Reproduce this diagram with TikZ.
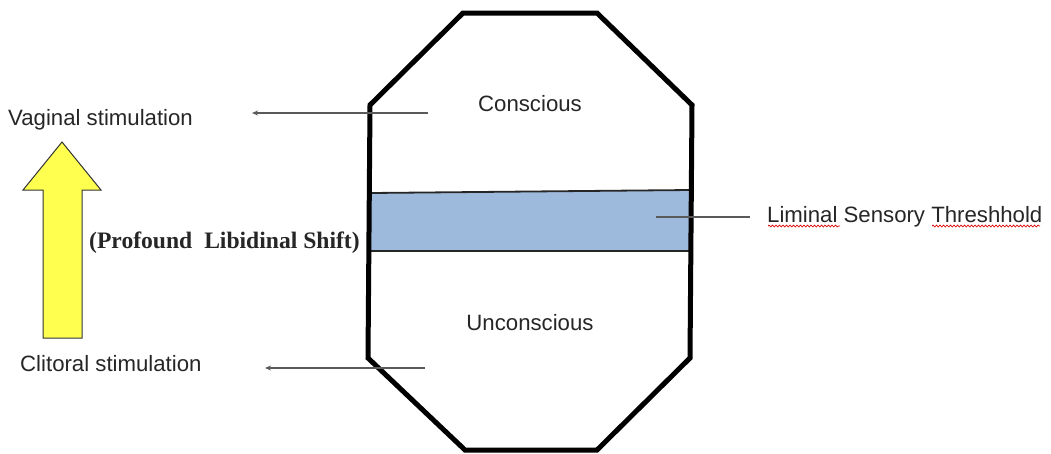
\documentclass[tikz,border=0pt]{standalone}
\usepackage{fontspec}
\setmainfont{Liberation Sans}
\newfontfamily\timesfont{Liberation Serif}
\usetikzlibrary{arrows.meta,decorations.pathmorphing}
\definecolor{bandblue}{HTML}{9DB9DB}
\definecolor{arrowyellow}{HTML}{FFFF50}
\definecolor{txt}{HTML}{262626}
\definecolor{linegray}{HTML}{5A5A5A}
\tikzset{
  lbl/.style={inner sep=0pt, text=txt, font=\fontsize{22.2}{26}\selectfont},
  pointer/.style={draw=linegray, line width=1.6pt, -{Stealth[length=6pt,width=5pt]}},
  leader/.style={draw=linegray, line width=1.6pt},
  spell/.style={draw=red!85!black, line width=0.7pt, decorate, decoration={snake, amplitude=0.9pt, segment length=3.5pt}},
  shell/.style={draw=black, line width=5pt, line join=miter}
}
\begin{document}
\begin{tikzpicture}[x=1pt,y=-1pt]
\useasboundingbox (0,0) rectangle (1051,453);
% threshold band
\fill[bandblue] (371,193) -- (690,190) -- (690,251) -- (371,251) -- cycle;
\draw[line width=1.8pt, draw=black!85] (371,193) -- (690,190);
\draw[line width=1.8pt, draw=black!85] (371,251) -- (690,251);
% octagon shell
\draw[shell] (463,13) -- (597,13) -- (692,105) -- (690,358) -- (597,450) -- (465,450) -- (368,358) -- (370,105) -- cycle;
% yellow arrow
\fill[arrowyellow, draw=black!80, line width=1pt] (43,338) -- (43,190) -- (23,190) -- (62,142) -- (101,190) -- (82,190) -- (82,338) -- cycle;
% labels
\node[lbl, anchor=west] (vag) at (8,120) {Vaginal stimulation};
\node[lbl, anchor=west] (clit) at (20,364) {Clitoral stimulation};
\node[inner sep=0pt, anchor=west, text=txt, font=\timesfont\bfseries\fontsize{23.6}{27}\selectfont] (shift) at (89,243) {(Profound\hspace{6pt} Libidinal Shift)};
\node[lbl] (con) at (530,104) {Conscious};
\node[lbl] (uncon) at (530,323) {Unconscious};
\node[lbl, anchor=base west] (lim) at (767,222) {Liminal Sensory Threshhold};
% connectors
\coordinate (cs) at (428,113);
\coordinate (ce) at (252,113);
\coordinate (us) at (425,368);
\coordinate (ue) at (265,368);
\coordinate (ls) at (656,217);
\coordinate (le) at (750,217);
\draw[pointer] (cs) -- (ce);
\draw[pointer] (us) -- (ue);
\draw[leader] (ls) -- (le);
% spell-check underlines
\draw[spell] (768,226) -- (840,226);
\draw[spell] (932,226) -- (1040,226);
\end{tikzpicture}
\end{document}
